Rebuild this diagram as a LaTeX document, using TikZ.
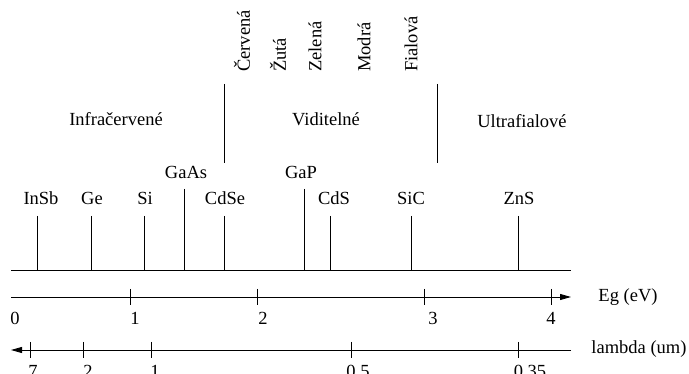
\documentclass[tikz,border=0pt]{standalone}
\usepackage{fontspec}
\setmainfont{Liberation Serif}
\usetikzlibrary{arrows.meta}
\begin{document}
\begin{tikzpicture}[x=1pt,y=-1pt,
  every node/.style={inner sep=0pt, font=\fontsize{18.5}{22}\selectfont},
  ln/.style={line width=0.9pt},
  tk/.style={line width=0.9pt},
  colr/.style={rotate=90, anchor=west},
  mat/.style={anchor=center},
  axarrow/.style={-{Triangle[length=11pt,width=6pt]}}]
\useasboundingbox (0,0) rectangle (689,374);
\clip (0,0) rectangle (689,374);

% colour names
\node[colr] (cerv) at (242,72) {Červená};
\node[colr] (zlut) at (278,72) {Žutá};
\node[colr] (zel)  at (315,72) {Zelená};
\node[colr] (mod)  at (364,72) {Modrá};
\node[colr] (fial) at (411,72) {Fialová};

% region dividers
\coordinate (d1t) at (224,84); \coordinate (d1b) at (224,163);
\coordinate (d2t) at (437,84); \coordinate (d2b) at (437,163);
\draw[ln] (d1t) -- (d1b);
\draw[ln] (d2t) -- (d2b);

% region names
\node (ir) at (116,119) {Infračervené};
\node (vis) at (326,119) {Viditelné};
\node (uv) at (522,121) {Ultrafialové};

% baseline
\coordinate (bl) at (11,270); \coordinate (br) at (571,270);
\draw[ln] (bl) -- (br);

% materials
\foreach \nm/\lx/\x/\ly/\ty in {InSb/41/37/198/216, Ge/92/91/198/216, Si/145/144/198/216,
  GaAs/186/184/172/189, CdSe/225/224/198/216, GaP/301/304/172/189,
  CdS/334/330/198/216, SiC/411/411/198/216, ZnS/519/518/198/216}{
  \node[mat] (l\nm) at (\lx,\ly) {\nm};
  \coordinate (t\nm) at (\x,\ty);
  \draw[ln] (t\nm) -- (t\nm |- bl);
}

% Eg axis
\coordinate (e0) at (11,297); \coordinate (e1) at (571,297);
\draw[ln,axarrow] (e0) -- (e1);
\foreach \v/\x/\lx in {1/130/135, 2/257/263, 3/424/433, 4/551/551}{
  \coordinate (et\v) at (\x,297);
  \draw[tk] ([yshift=8pt]et\v) -- ([yshift=-8pt]et\v);
  \node (el\v) at (\lx,318) {\v};
}
\node (el0) at (15,318) {0};
\node (eglab) at (628,297) {Eg (eV)};

% lambda axis
\coordinate (w0) at (571,350); \coordinate (w1) at (11,350);
\draw[ln,axarrow] (w0) -- (w1);
\foreach \n/\v/\x/\lx in {a/7/30/33, b/2/83/88, c/1/151/155, d/0.5/351/358, e/0.35/518/530}{
  \coordinate (wt\n) at (\x,350);
  \draw[tk] ([yshift=8pt]wt\n) -- ([yshift=-8pt]wt\n);
  \node (wl\n) at (\lx,371) {\v};
}
\node (wlab) at (639,349) {lambda (um)};
\end{tikzpicture}
\end{document}
